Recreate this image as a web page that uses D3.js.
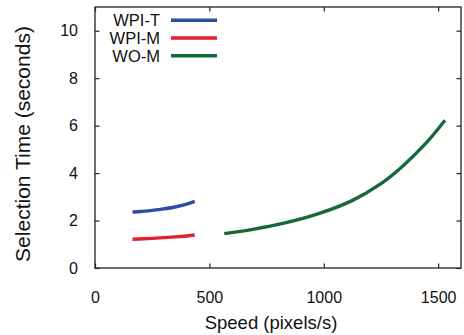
<!DOCTYPE html>
<html><head><meta charset="utf-8">
<script src="https://cdn.jsdelivr.net/npm/d3@7"></script>
<style>body{margin:0;background:#fff}svg{display:block}text{font-family:"Liberation Sans",Arial,Helvetica,sans-serif;fill:#111}</style>
</head><body>
<script>
const seriesNames = ["WPI-T", "WPI-M", "WO-M"];
const seriesColors = ["#2f4ea3", "#e3222d", "#17693a"];
const wpiT_speed = [164, 200, 250, 300, 350, 400, 436];
const wpiT_time  = [2.36, 2.38, 2.43, 2.49, 2.57, 2.69, 2.81];
const wpiM_speed = [164, 250, 300, 350, 400, 436];
const wpiM_time  = [1.21, 1.25, 1.28, 1.31, 1.35, 1.39];
const woM_speed = [565, 690, 836, 981, 1126, 1242, 1340, 1446, 1530];
const woM_time  = [1.45, 1.63, 1.91, 2.30, 2.85, 3.50, 4.25, 5.25, 6.23];
const xTicks = [0, 500, 1000, 1500];
const yTicks = [0, 2, 4, 6, 8, 10];

const W = 464, H = 335;
const m = {left: 95, top: 7, right: 461, bottom: 268};
const svg = d3.select("body").append("svg").attr("width", W).attr("height", H);
const x = d3.scaleLinear().domain([0, 1600]).range([m.left, m.right]);
const y = d3.scaleLinear().domain([0, 11]).range([m.bottom, m.top]);

// curves
const series = [
  d3.zip(wpiT_speed, wpiT_time),
  d3.zip(wpiM_speed, wpiM_time),
  d3.zip(woM_speed, woM_time)
];
const line = d3.line().x(d => x(d[0])).y(d => y(d[1])).curve(d3.curveCatmullRom);
series.forEach((s, i) => {
  svg.append("path").attr("d", line(s)).attr("fill", "none")
    .attr("stroke", seriesColors[i]).attr("stroke-width", 3.4);
});

// frame
const tl = 4.5;
const axCol = "#222";
svg.append("rect").attr("x", m.left).attr("y", m.top)
  .attr("width", m.right - m.left).attr("height", m.bottom - m.top)
  .attr("fill", "none").attr("stroke", axCol).attr("stroke-width", 1.3);

const fmt = d3.format("d");
const gx = svg.append("g").attr("transform", `translate(0,${m.bottom})`)
  .call(d3.axisBottom(x).tickValues(xTicks).tickFormat(fmt).tickSizeInner(-tl).tickSizeOuter(0).tickPadding(24));
const gxt = svg.append("g").attr("transform", `translate(0,${m.top})`)
  .call(d3.axisTop(x).tickValues(xTicks).tickSizeInner(-tl).tickSizeOuter(0).tickFormat(""));
const gy = svg.append("g").attr("transform", `translate(${m.left},0)`)
  .call(d3.axisLeft(y).tickValues(yTicks).tickFormat(fmt).tickSizeInner(-tl).tickSizeOuter(0).tickPadding(17));
const gyr = svg.append("g").attr("transform", `translate(${m.right},0)`)
  .call(d3.axisRight(y).tickValues(yTicks).tickSizeInner(-tl).tickSizeOuter(0).tickFormat(""));
[gx, gxt, gy, gyr].forEach(g => {
  g.select(".domain").remove();
  g.selectAll(".tick line").attr("stroke", axCol).attr("stroke-width", 1.2);
  g.selectAll("text").attr("font-size", 16).attr("fill", "#111")
    .attr("font-family", '"Liberation Sans",Arial,sans-serif');
});

// axis titles
svg.append("text").attr("x", 271).attr("y", 329).attr("text-anchor", "middle")
  .attr("font-size", 18.5).text("Speed (pixels/s)");
svg.append("text").attr("transform", "translate(30,144) rotate(-90)").attr("text-anchor", "middle")
  .attr("font-size", 21).text("Selection Time (seconds)");

// legend
const lg = svg.append("g");
seriesNames.forEach((n, i) => {
  const cy = 20.3 + i * 17.7;
  lg.append("text").attr("x", 160).attr("y", cy + 5.8).attr("text-anchor", "end")
    .attr("font-size", 16.5).text(n);
  lg.append("line").attr("x1", 171).attr("x2", 217).attr("y1", cy).attr("y2", cy)
    .attr("stroke", seriesColors[i]).attr("stroke-width", 3.4);
});
</script>
</body></html>
